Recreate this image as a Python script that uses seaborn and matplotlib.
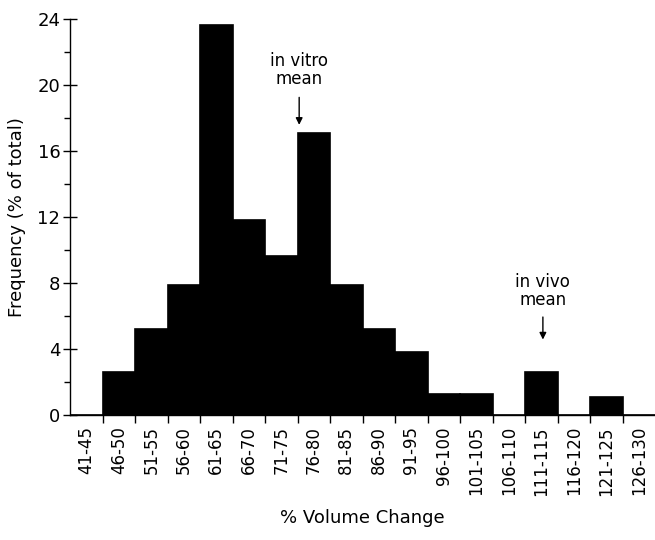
import numpy as np
import pandas as pd
import matplotlib
matplotlib.use('Agg')
import matplotlib.pyplot as plt
from matplotlib.ticker import MultipleLocator, FixedLocator
import seaborn as sns

# bins of % volume change and frequency (% of total)
bins = ['41-45', '46-50', '51-55', '56-60', '61-65', '66-70', '71-75',
        '76-80', '81-85', '86-90', '91-95', '96-100', '101-105', '106-110',
        '111-115', '116-120', '121-125', '126-130']
freq = [0, 2.6, 5.2, 7.9, 23.6, 11.8, 9.6, 17.1, 7.9, 5.2, 3.8, 1.3, 1.3,
        0, 2.6, 0, 1.1, 0]

df = pd.DataFrame({'bin': bins, 'freq': freq})

sns.set_style('white')
plt.rcParams['font.family'] = ['DejaVu Sans']
plt.rcParams['text.color'] = 'black'
plt.rcParams['axes.labelcolor'] = 'black'
plt.rcParams['xtick.color'] = 'black'
plt.rcParams['ytick.color'] = 'black'

fig = plt.figure(figsize=(6.55, 5.4), dpi=100)
ax = fig.add_axes([0.107, 0.2315, 0.893, 0.734])

sns.barplot(data=df, x='bin', y='freq', color='black', saturation=1,
            width=1.0, edgecolor='black', linewidth=1.2, ax=ax)

ax.set_xlim(-0.5, len(bins) - 0.5)
ax.set_ylim(0, 24)

for s in ['top', 'right']:
    ax.spines[s].set_visible(False)
ax.spines['left'].set_linewidth(1.0)
ax.spines['left'].set_color('black')
ax.spines['bottom'].set_linewidth(1.0)
ax.spines['bottom'].set_color('black')

ax.yaxis.set_major_locator(MultipleLocator(4))
ax.yaxis.set_minor_locator(MultipleLocator(2))
ax.tick_params(axis='y', which='both', left=True)
ax.tick_params(axis='y', which='major', direction='inout', length=10,
               width=1, labelsize=13, pad=2)
ax.tick_params(axis='y', which='minor', direction='out', length=4, width=1)

# labels at bin centres, tick marks at bin edges
ax.set_xticks(range(len(bins)))
ax.set_xticklabels(bins, rotation=90)
ax.tick_params(axis='x', which='both', bottom=True)
ax.tick_params(axis='x', which='major', length=0, labelsize=12, pad=8)
ax.xaxis.set_minor_locator(FixedLocator(np.arange(0.5, len(bins) - 0.5, 1)))
ax.tick_params(axis='x', which='minor', direction='out', length=6, width=1)

ax.set_xlabel('% Volume Change', fontsize=13, labelpad=10)
ax.set_ylabel('Frequency (% of total)', fontsize=13, labelpad=8)

ax.annotate('', xy=(6.55, 17.4), xytext=(6.55, 19.4),
            arrowprops=dict(arrowstyle='-|>', color='black', lw=1,
                            mutation_scale=10))
ax.text(6.55, 20.9, 'in vitro\nmean', ha='center', va='center', fontsize=12,
        linespacing=1.0)

ax.annotate('', xy=(14.05, 4.4), xytext=(14.05, 6.1),
            arrowprops=dict(arrowstyle='-|>', color='black', lw=1,
                            mutation_scale=10))
ax.text(14.05, 7.5, 'in vivo\nmean', ha='center', va='center', fontsize=12,
        linespacing=1.0)

fig.savefig('out.png', dpi=100)
